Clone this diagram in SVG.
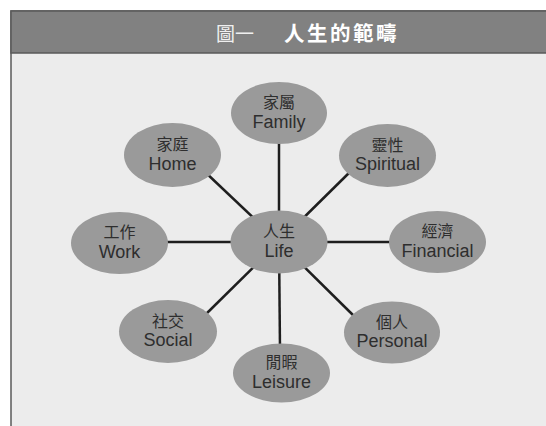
<svg xmlns="http://www.w3.org/2000/svg" width="546" height="426" viewBox="0 0 546 426">
<style>
.node ellipse{fill:#9a9a9a;}
.zh{font-family:"Liberation Sans","Noto Sans CJK TC",sans-serif;font-size:16px;fill:#2e2e2e;text-anchor:middle;}
.en{font-family:"Liberation Sans","Noto Sans CJK TC",sans-serif;font-size:18px;fill:#2e2e2e;text-anchor:middle;}
.title{font-family:"Liberation Sans","Noto Sans CJK TC",sans-serif;fill:#ffffff;}
#connectors line{stroke:#1e1e1e;stroke-width:2.5;}
</style>
<rect x="0" y="0" width="546" height="426" fill="#ffffff"/>
<rect x="11" y="11" width="540" height="420" fill="#ececec" stroke="#5a5a5a" stroke-width="1.5"/>
<rect x="11" y="11" width="540" height="42" fill="#818181" stroke="#5a5a5a" stroke-width="1.5"/>
<text class="title" x="216" y="41" font-size="19" fill-opacity="0.9">圖一</text>
<text class="title" x="284" y="41" font-size="20.5" font-weight="bold" letter-spacing="2.5">人生的範疇</text>
<g id="connectors">
<line x1="279" y1="242" x2="279" y2="140"/>
<line x1="279" y1="242" x2="280" y2="350"/>
<line x1="279" y1="242" x2="160" y2="242"/>
<line x1="279" y1="242" x2="395" y2="242"/>
<line x1="279" y1="242" x2="204" y2="171"/>
<line x1="279" y1="242" x2="354" y2="168"/>
<line x1="279" y1="242" x2="202" y2="318"/>
<line x1="279" y1="242" x2="357" y2="319"/>
</g>
<g id="node-life" class="node"><ellipse cx="279" cy="242" rx="48.5" ry="31.5"/><text class="zh" x="279" y="237">人生</text><text class="en" x="279" y="256.5">Life</text></g>
<g id="node-family" class="node"><ellipse cx="279" cy="113" rx="48" ry="31"/><text class="zh" x="279" y="108">家屬</text><text class="en" x="279" y="127.5">Family</text></g>
<g id="node-home" class="node"><ellipse cx="172.5" cy="155" rx="48.5" ry="32"/><text class="zh" x="172.5" y="150">家庭</text><text class="en" x="172.5" y="169.5">Home</text></g>
<g id="node-spiritual" class="node"><ellipse cx="387.5" cy="155.5" rx="48.5" ry="31.5"/><text class="zh" x="387.5" y="150.5">靈性</text><text class="en" x="387.5" y="170">Spiritual</text></g>
<g id="node-work" class="node"><ellipse cx="119.5" cy="243" rx="48.5" ry="31"/><text class="zh" x="119.5" y="238">工作</text><text class="en" x="119.5" y="257.5">Work</text></g>
<g id="node-financial" class="node"><ellipse cx="437.5" cy="242" rx="48.5" ry="31"/><text class="zh" x="437.5" y="237">經濟</text><text class="en" x="437.5" y="256.5">Financial</text></g>
<g id="node-social" class="node"><ellipse cx="168" cy="331.5" rx="49" ry="31.5"/><text class="zh" x="168" y="326.5">社交</text><text class="en" x="168" y="346">Social</text></g>
<g id="node-leisure" class="node"><ellipse cx="281.5" cy="373" rx="48.5" ry="29.5"/><text class="zh" x="281.5" y="368">閒暇</text><text class="en" x="281.5" y="387.5">Leisure</text></g>
<g id="node-personal" class="node"><ellipse cx="392" cy="332.5" rx="48" ry="31"/><text class="zh" x="392" y="328">個人</text><text class="en" x="392" y="347">Personal</text></g>
</svg>
